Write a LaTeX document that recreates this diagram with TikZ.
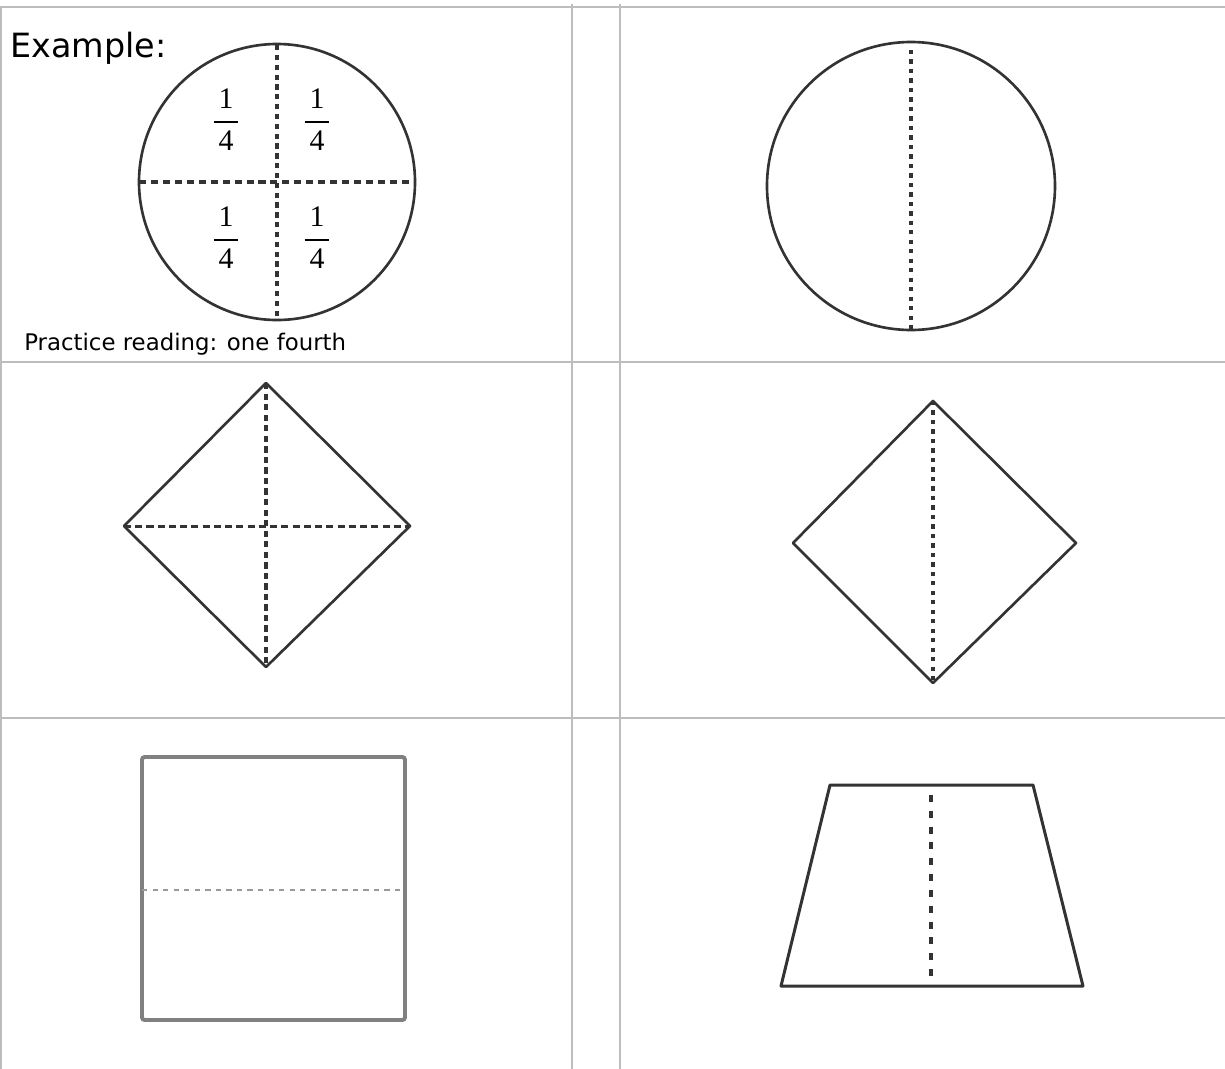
\documentclass[tikz,border=0pt]{standalone}
\usepackage{amsmath}
\usepackage{fontspec}
\setmainfont{DejaVu Sans}
\newfontfamily\fracfont{Liberation Serif}
\usepackage{xcolor}
\usepackage{tikz}
\usetikzlibrary{positioning}

\definecolor{gridgray}{HTML}{BDBDBD}
\definecolor{inkgray}{HTML}{333333}
\definecolor{boxgray}{HTML}{808080}

\newcommand{\quarter}{$\genfrac{}{}{1.5pt}{0}{\text{\fracfont\,1\,}}{\text{\fracfont\,4\,}}$}

\begin{document}
\begin{tikzpicture}[
  x=0.02cm, y=-0.02cm,
  grid/.style={draw=gridgray, line width=0.7pt},
  outline/.style={draw=inkgray, line width=1.5pt, line join=round},
  cut/.style={draw=inkgray, line width=2.2pt, dash pattern=on 3pt off 2.6pt},
  frac/.style={inner sep=0pt, font=\fontsize{17}{20}\selectfont},
  txt/.style={inner sep=0pt, anchor=base west},
]
  \useasboundingbox (0,0) rectangle (1225,1069);

  % table rules
  \draw[grid] (0,7) -- (1225,7);
  \draw[grid] (0,362) -- (1225,362);
  \draw[grid] (0,718) -- (1225,718);
  \draw[grid] (1,7) -- (1,1069);
  \draw[grid] (572,4) -- (572,1069);
  \draw[grid] (620,4) -- (620,1069);

  % example circle
  \node (title) [txt, font=\fontsize{19}{22}\selectfont] at (10,57) {Example:};
  \draw[outline] (277,182) circle [radius=138];
  \draw[cut] (277,45) -- (277,320);
  \draw[cut, dash pattern=on 4pt off 2.8pt] (139,182) -- (415,182);
  \node (q1) [frac] at (226,120) {\quarter};
  \node (q2) [frac] at (317,120) {\quarter};
  \node (q3) [frac] at (226,238) {\quarter};
  \node (q4) [frac] at (317,238) {\quarter};
  \node (reading) [txt, font=\fontsize{13}{15}\selectfont] at (24,350) {Practice reading: one fourth};

  % halved circle
  \draw[outline] (911,186) circle [radius=144];
  \draw[cut, dash pattern=on 2.4pt off 3pt] (911,50) -- (911,330);

  % diamond in four
  \draw[outline] (266,383) -- (410,526) -- (266,667) -- (124,526) -- cycle;
  \draw[cut, line width=1.9pt, dash pattern=on 3.6pt off 2.4pt] (266,383) -- (266,667);
  \draw[cut, line width=1.7pt, dash pattern=on 4pt off 2.4pt] (124,526) -- (410,526);

  % diamond in two
  \draw[outline] (933,401) -- (1076,543) -- (933,683) -- (793,543) -- cycle;
  \draw[cut, line width=1.9pt, dash pattern=on 2.4pt off 3pt] (933,401) -- (933,683);

  % square in two
  \draw[draw=boxgray, line width=2.2pt, rounded corners=1.5pt] (142,757) rectangle (405,1020);
  \draw[draw=boxgray!80, line width=1.3pt, dash pattern=on 3pt off 3pt] (142,890) -- (405,890);

  % trapezoid in two
  \draw[outline, line width=1.7pt] (830,785) -- (1033,785) -- (1083,986) -- (781,986) -- cycle;
  \draw[cut, dash pattern=on 4pt off 5pt] (931,795) -- (931,986);
\end{tikzpicture}
\end{document}
